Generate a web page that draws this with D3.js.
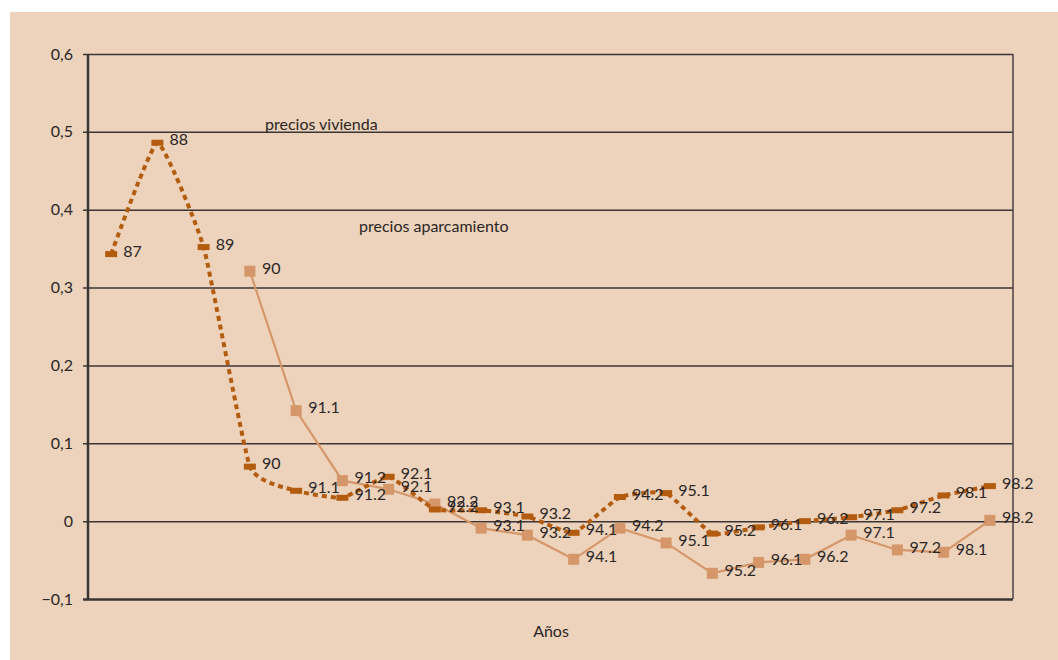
<!DOCTYPE html>
<html>
<head>
<meta charset="utf-8">
<script src="https://cdn.jsdelivr.net/npm/d3@7"></script>
<style>
  body { margin: 0; background: #fff; }
  text { font-family: Lato, 'Open Sans', sans-serif; fill: #2b2626; }
</style>
</head>
<body>
<div id="chart"></div>
<script>
// periods (year.half) on the x axis
const periods = ['87', '88', '89', '90', '91.1', '91.2', '92.1', '92.2', '93.1', '93.2',
  '94.1', '94.2', '95.1', '95.2', '96.1', '96.2', '97.1', '97.2', '98.1', '98.2']

// precios vivienda (dark, dashed, smoothed)
const vivienda = [0.343, 0.486, 0.352, 0.070, 0.039, 0.030, 0.057, 0.015, 0.014, 0.006,
  -0.015, 0.031, 0.036, -0.016, -0.008, 0.000, 0.005, 0.014, 0.033, 0.045]

// precios aparcamiento (light, solid) - starts in 90
const aparcamiento = [null, null, null, 0.321, 0.142, 0.052, 0.041, 0.022, -0.009, -0.018,
  -0.049, -0.009, -0.028, -0.067, -0.053, -0.049, -0.018, -0.037, -0.040, 0.001]

const yTicks = [-0.1, 0, 0.1, 0.2, 0.3, 0.4, 0.5, 0.6]

const W = 1058
const H = 660
const plotLeft = 88
const plotRight = 1013
const plotTop = 54
const plotBottom = 599

const svg = d3.select('#chart')
  .append('svg')
  .attr('width', W)
  .attr('height', H)

svg.append('rect')
  .attr('x', 10).attr('y', 12)
  .attr('width', W - 10).attr('height', H - 12)
  .attr('fill', '#edd3bb')

const x = d3.scalePoint().domain(periods).range([plotLeft, plotRight]).padding(0.5)
const y = d3.scaleLinear().domain([-0.1, 0.6]).range([plotBottom, plotTop])

const fmt = d => d === 0 ? '0' : d3.format('.1f')(d).replace('.', ',')

// gridlines + tick labels
const yAxis = svg.append('g')
  .attr('transform', `translate(${plotLeft - 5},0)`)
  .call(d3.axisLeft(y).tickValues(yTicks).tickFormat(fmt)
    .tickSize(-(plotRight - plotLeft + 5)).tickPadding(10))
yAxis.select('.domain').remove()
yAxis.selectAll('.tick line')
  .attr('stroke', '#3b3535')
  .attr('stroke-width', d => d === -0.1 ? 2.5 : 1.5)
yAxis.selectAll('.tick text')
  .attr('font-size', 16)
  .attr('fill', '#2b2626')
  .style('font-family', 'Lato, sans-serif')

// left axis and right frame
svg.append('line')
  .attr('x1', plotLeft).attr('x2', plotLeft).attr('y1', plotTop).attr('y2', plotBottom)
  .attr('stroke', '#3b3535').attr('stroke-width', 2.5)
svg.append('line')
  .attr('x1', plotRight).attr('x2', plotRight).attr('y1', plotTop).attr('y2', plotBottom)
  .attr('stroke', '#4a4242').attr('stroke-width', 1.5)

const dark = '#b35c10'
const light = '#d5976a'

const viv = periods.map((p, i) => ({ p, v: vivienda[i] }))
const apa = periods.map((p, i) => ({ p, v: aparcamiento[i] })).filter(d => d.v !== null)

// aparcamiento line
svg.append('path')
  .datum(apa)
  .attr('fill', 'none')
  .attr('stroke', light)
  .attr('stroke-width', 2.2)
  .attr('d', d3.line().x(d => x(d.p)).y(d => y(d.v)))

svg.append('g')
  .selectAll('rect')
  .data(apa)
  .enter()
  .append('rect')
  .attr('x', d => x(d.p) - 5.5)
  .attr('y', d => y(d.v) - 5.5)
  .attr('width', 11)
  .attr('height', 11)
  .attr('fill', light)

// vivienda line (smoothed, dashed)
svg.append('path')
  .datum(viv)
  .attr('fill', 'none')
  .attr('stroke', dark)
  .attr('stroke-width', 4)
  .attr('stroke-dasharray', '5,4')
  .attr('d', d3.line().curve(d3.curveCardinal.tension(0.6)).x(d => x(d.p)).y(d => y(d.v)))

svg.append('g')
  .selectAll('rect')
  .data(viv)
  .enter()
  .append('rect')
  .attr('x', d => x(d.p) - 6)
  .attr('y', d => y(d.v) - 3)
  .attr('width', 12)
  .attr('height', 6)
  .attr('fill', dark)

// point labels
const labels = svg.append('g').attr('font-size', 16)
labels.selectAll('text.viv')
  .data(viv)
  .enter()
  .append('text')
  .attr('class', 'viv')
  .attr('x', d => x(d.p) + 12)
  .attr('y', d => y(d.v) - 3)
  .attr('dy', '0.35em')
  .text(d => d.p)
labels.selectAll('text.apa')
  .data(apa)
  .enter()
  .append('text')
  .attr('class', 'apa')
  .attr('x', d => x(d.p) + 12)
  .attr('y', d => y(d.v) - 3)
  .attr('dy', '0.35em')
  .text(d => d.p)

// series names
svg.append('text')
  .attr('x', 265).attr('y', 130)
  .attr('font-size', 16)
  .text('precios vivienda')
svg.append('text')
  .attr('x', 359).attr('y', 232)
  .attr('font-size', 16)
  .text('precios aparcamiento')

// x title
svg.append('text')
  .attr('x', 551).attr('y', 637)
  .attr('text-anchor', 'middle')
  .attr('font-size', 16)
  .text('Años')
</script>
</body>
</html>
